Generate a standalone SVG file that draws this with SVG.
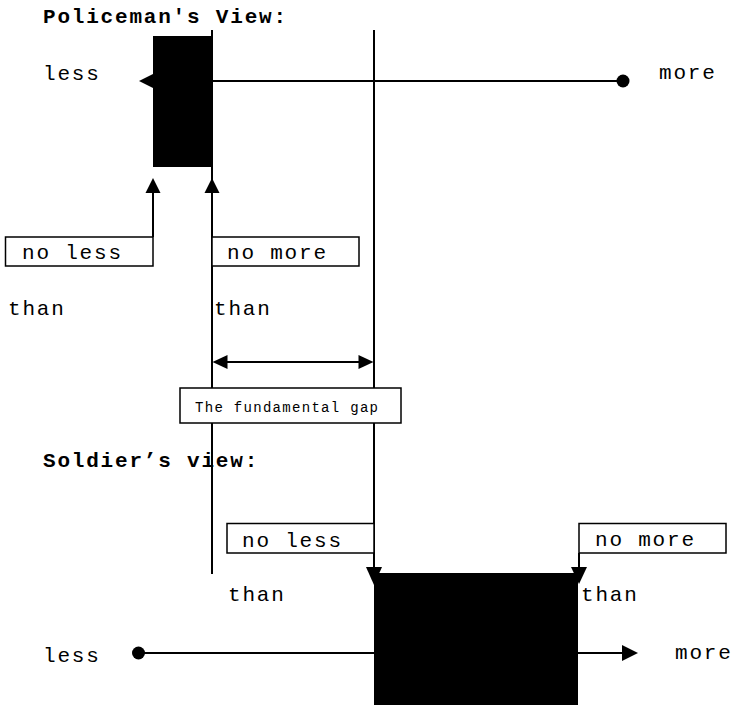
<svg xmlns="http://www.w3.org/2000/svg" width="735" height="705" viewBox="0 0 735 705">
<style>
text{font-family:"Liberation Mono","Courier New",monospace;fill:#000}
.t{font-size:21px;letter-spacing:1.8px}
.b{font-size:21px;font-weight:bold;letter-spacing:1.8px}
.s{font-size:14px;letter-spacing:1.3px}
.box{fill:#fff;stroke:#000;stroke-width:1.5}
.ln{stroke:#000;stroke-width:2;fill:none}
.blk{fill:#000}
</style>
<rect width="735" height="705" fill="#fff"/>
<g id="titles">
<text class="b" x="43" y="23">Policeman's View:</text>
<text class="b" x="43" y="467">Soldier’s view:</text>
</g>
<g id="policeman-block"><rect class="blk" x="153" y="36" width="59" height="131"/></g>
<g id="soldier-block"><rect class="blk" x="374" y="573" width="204" height="132"/></g>
<g id="connectors">
<line class="ln" x1="212" y1="30" x2="212" y2="574"/>
<line class="ln" x1="374" y1="30" x2="374" y2="569"/>
<path d="M366,567 L382,567 L374,585 Z" class="blk"/>
<line class="ln" x1="212" y1="81" x2="623" y2="81"/>
<circle cx="623" cy="81" r="6.5" class="blk"/>
<path d="M139,81 L155,73 L155,89 Z" class="blk"/>
<line class="ln" x1="153" y1="237" x2="153" y2="192"/>
<path d="M153,178 L145.5,193 L160.5,193 Z" class="blk"/>
<path d="M212,178 L204.5,193 L219.5,193 Z" class="blk"/>
<line class="ln" x1="226" y1="362" x2="360" y2="362"/>
<path d="M212.5,362 L227.5,355 L227.5,369 Z" class="blk"/>
<path d="M373.5,362 L358.5,355 L358.5,369 Z" class="blk"/>
<line class="ln" x1="579" y1="553" x2="579" y2="569"/>
<path d="M571,567 L587,567 L579,584 Z" class="blk"/>
<line class="ln" x1="138" y1="653" x2="624" y2="653"/>
<circle cx="138.5" cy="653" r="6.5" class="blk"/>
<path d="M638,653 L622,645 L622,661 Z" class="blk"/>
</g>
<g id="policeman-labels">
<text class="t" x="43" y="80">less</text>
<text class="t" x="659" y="79">more</text>
</g>
<g id="p-no-less">
<rect class="box" x="5.5" y="237" width="147.5" height="29"/>
<text class="t" x="22" y="259">no less</text>
<text class="t" x="8" y="315">than</text>
</g>
<g id="p-no-more">
<rect class="box" x="212" y="237" width="147" height="29"/>
<text class="t" x="227" y="259">no more</text>
<text class="t" x="214" y="315">than</text>
</g>
<g id="gap">
<rect class="box" x="180" y="388" width="221" height="35"/>
<text class="s" x="195" y="412">The fundamental gap</text>
</g>
<g id="s-no-less">
<rect class="box" x="227" y="523.5" width="147" height="29.5"/>
<text class="t" x="242" y="547">no less</text>
<text class="t" x="228" y="601">than</text>
</g>
<g id="s-no-more">
<rect class="box" x="579" y="523.5" width="147" height="29.5"/>
<text class="t" x="595" y="546">no more</text>
<text class="t" x="581" y="601">than</text>
</g>
<g id="soldier-labels">
<text class="t" x="43" y="662">less</text>
<text class="t" x="675" y="659">more</text>
</g>
</svg>
